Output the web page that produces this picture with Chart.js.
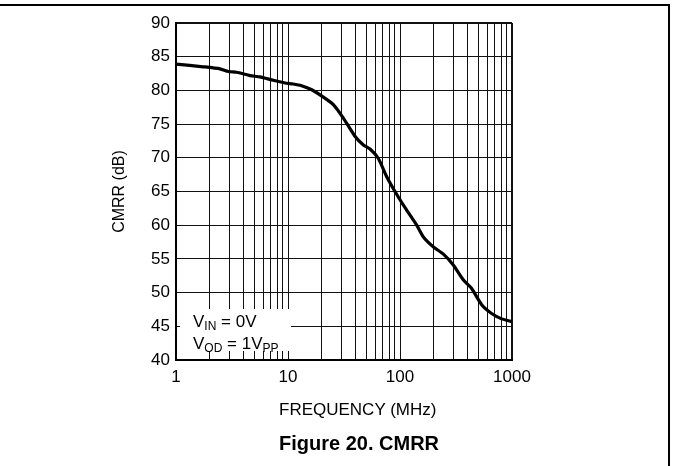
<!DOCTYPE html>
<html>
<head>
<meta charset="utf-8">
<script src="https://cdn.jsdelivr.net/npm/chart.js@4"></script>
<style>
    html, body { margin: 0; padding: 0; background: #fff; }
    #wrap { position: relative; width: 673px; height: 466px; overflow: hidden; font-family: "Liberation Sans", Arial, sans-serif; color: #000; }
    #frame { position: absolute; left: -2px; top: 4px; width: 672px; height: 470px; border-top: 2px solid #000; border-right: 2px solid #000; box-sizing: border-box; }
    #note { position: absolute; left: 180px; top: 309px; width: 111px; height: 42px; background: #fff; font-size: 17px; }
    #note div { position: absolute; left: 13px; white-space: nowrap; line-height: 16px; }
    #note sub { font-size: 12px; vertical-align: -3px; }
    #xtitle { position: absolute; left: 279px; top: 400px; font-size: 17px; line-height: 20px; white-space: nowrap; }
    #caption { position: absolute; left: 279px; top: 431px; font-weight: bold; font-size: 20px; line-height: 24px; white-space: nowrap; }
</style>
</head>
<body>
<div id="wrap">
    <canvas id="myChart" width="673" height="466"></canvas>
    <div id="frame"></div>
    <div id="note">
        <div style="top: 5px;">V<sub>IN</sub> = 0V</div>
        <div style="top: 27px;">V<sub>OD</sub> = 1V<sub>PP</sub></div>
    </div>
    <div id="xtitle">FREQUENCY (MHz)</div>
    <div id="caption">Figure 20. CMRR</div>
</div>
<script>
    // CMRR curve
    const freqMHz = [1, 1.75, 2.47, 2.93, 3.48, 4.58, 5.62, 7.39, 9.4, 11.1, 13.2, 16.3, 20.7, 25.4, 31.2, 39.6,
        47.1, 54, 64.1, 76.1, 93.3, 114, 141, 161, 198, 244, 299, 367, 436, 536, 658, 809, 1000];
    const cmrrDb = [83.9, 83.5, 83.2, 82.8, 82.7, 82.2, 82.0, 81.5, 81.1, 80.95, 80.7, 80.1, 79.0, 77.9, 75.9, 73.2,
        71.9, 71.3, 69.9, 67.2, 64.6, 62.3, 60.0, 58.3, 56.8, 55.7, 54.1, 51.9, 50.6, 48.2, 46.9, 46.1, 45.7];
    const xGrid = [1, 2, 3, 4, 5, 6, 7, 8, 9, 10, 20, 30, 40, 50, 60, 70, 80, 90, 100,
        200, 300, 400, 500, 600, 700, 800, 900, 1000];
    const xLabels = [1, 10, 100, 1000];

    const ctx = document.getElementById('myChart');
    Chart.defaults.font.family = '"Liberation Sans", Arial, sans-serif';
    Chart.defaults.font.size = 17;
    Chart.defaults.color = '#000';

    new Chart(ctx, {
        type: 'scatter',
        data: {
            datasets: [{
                label: 'CMRR',
                data: freqMHz.map((f, i) => ({x: f, y: cmrrDb[i]})),
                showLine: true,
                borderColor: '#000',
                borderWidth: 3.2,
                pointRadius: 0,
                tension: 0.2,
            }],
        },
        options: {
            responsive: false,
            animation: false,
            layout: {
                padding: {left: 100, top: 23, right: 161, bottom: 38},
            },
            plugins: {
                legend: {display: false},
                tooltip: {enabled: false},
            },
            scales: {
                x: {
                    type: 'logarithmic',
                    min: 1,
                    max: 1000,
                    afterBuildTicks: scale => {
                        scale.ticks = xGrid.map(v => ({value: v}));
                    },
                    afterFit: scale => {
                        scale.height = 68;
                    },
                    ticks: {
                        autoSkip: false,
                        maxRotation: 0,
                        padding: 7,
                        callback: v => xLabels.includes(v) ? String(v) : '',
                    },
                    grid: {
                        color: '#111',
                        lineWidth: c => (c.tick && c.tick.value === 1000) ? 2 : 1,
                        drawTicks: false,
                    },
                    border: {color: '#000', width: 2},
                },
                y: {
                    min: 40,
                    max: 90,
                    afterFit: scale => {
                        scale.width = 76;
                    },
                    ticks: {
                        stepSize: 5,
                        padding: 6,
                    },
                    grid: {
                        color: '#111',
                        lineWidth: c => (c.tick && c.tick.value === 90) ? 2 : 1,
                        drawTicks: false,
                    },
                    border: {color: '#000', width: 2},
                    title: {
                        display: true,
                        text: 'CMRR (dB)',
                        font: {size: 16},
                        padding: {top: 10, bottom: 0},
                    },
                },
            },
        },
    });
</script>
</body>
</html>
